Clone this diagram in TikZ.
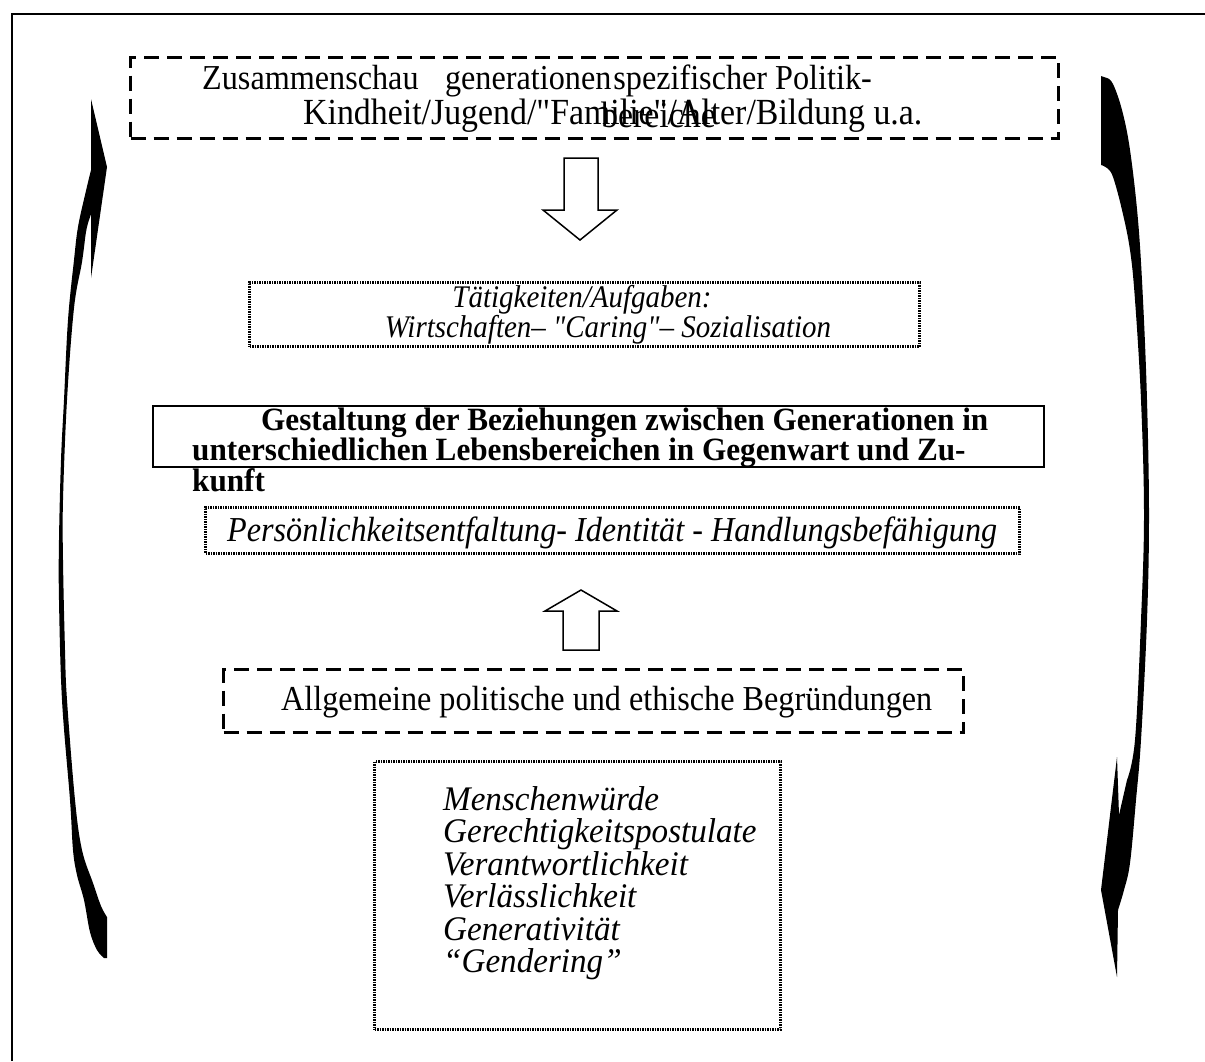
\documentclass[tikz,border=0pt]{standalone}
\usepackage{fontspec}
\setmainfont{Liberation Serif}[Ligatures=TeXOff]
\newfontfamily\condserif{Liberation Serif}[FakeStretch=0.92, Ligatures=TeXOff]
\newfontfamily\condbold{Liberation Serif}[FakeStretch=0.96, Ligatures=TeXOff]
\newfontfamily\listserif{Liberation Serif}[FakeStretch=0.96, Ligatures=TeXOff]
\begin{document}
\begin{tikzpicture}[x=1pt,y=-1pt,
  dashbox/.style={draw, line width=3pt, dash pattern=on 15pt off 8pt, inner sep=0pt, anchor=north west},
  dotbox/.style={draw, line width=3pt, dash pattern=on 1.5pt off 1pt, inner sep=0pt, anchor=north west},
  solidbox/.style={draw, line width=2pt, inner sep=0pt, anchor=north west},
  txt/.style={inner sep=0pt, font=\condserif\fontsize{35}{36}\selectfont},
  bigtxt/.style={inner sep=0pt, font=\condserif\fontsize{36.8}{38}\selectfont},
  itxt/.style={inner sep=0pt, font=\condserif\fontsize{35}{36}\selectfont\itshape},
  smitxt/.style={inner sep=0pt, font=\condserif\fontsize{31.5}{33}\selectfont\itshape},
  listtxt/.style={inner sep=0pt, anchor=base west, font=\listserif\fontsize{34.5}{36}\selectfont\itshape},
  btxt/.style={inner sep=0pt, anchor=base west, font=\condbold\fontsize{32.5}{34}\selectfont\bfseries},
  blockarrow/.style={draw, line width=1.5pt, fill=white, line join=miter}
]
\useasboundingbox (0,0) rectangle (1205,1061);
% frame
\draw[line width=2.5pt] (12,1061) -- (12,14) -- (1205,14);

% top box
\node[dashbox, minimum width=928pt, minimum height=81pt] (topbox) at (129,56) {};
\node[txt, anchor=base west] (top1a) at (202,89) {Zusammenschau};
\node[txt, anchor=base east] (top1b) at (872,89) {generationen\hspace{2pt}spezifischer Politik-};
\node[bigtxt, anchor=base west] (top2) at (303,124) {Kindheit/Jugend/"Familie"/Alter/Bildung u.a.};
\node[bigtxt, anchor=base west] (top3) at (601,127) {bereiche};

% down block arrow
\draw[blockarrow] (564,158) -- (598,158) -- (598,210) -- (617,210) -- (580,240) -- (543,210) -- (564,210) -- cycle;

% Taetigkeiten box
\node[dotbox, minimum width=670pt, minimum height=64pt] (taetbox) at (248,281) {};
\node[smitxt, anchor=base] (taet1) at (582,307) {Tätigkeiten/Aufgaben:};
\node[smitxt, anchor=base] (taet2) at (608,337) {Wirtschaften– "Caring"– Sozialisation};

% bold box
\node[solidbox, minimum width=891pt, minimum height=61pt] (gestbox) at (152,405) {};
\node[btxt] (gest1) at (261,430) {Gestaltung der Beziehungen zwischen Generationen in};
\node[btxt] (gest2) at (192,460.5) {unterschiedlichen Lebensbereichen in Gegenwart und Zu-};
\node[btxt] (gest3) at (192,491) {kunft};

% Persoenlichkeit box
\node[dotbox, minimum width=814pt, minimum height=46pt] (persbox) at (204,506) {};
\node[itxt, anchor=base west] (pers) at (227,541) {Persönlichkeitsentfaltung- Identität - Handlungsbefähigung};

% up block arrow
\draw[blockarrow] (563,650) -- (599,650) -- (599,611) -- (617,611) -- (581,590) -- (545,611) -- (563,611) -- cycle;

% Allgemeine box
\node[dashbox, minimum width=740pt, minimum height=63pt] (allgbox) at (222,668) {};
\node[txt, anchor=base west] (allg) at (281,710) {Allgemeine politische und ethische Begründungen};

% values box
\node[dotbox, minimum width=406pt, minimum height=268pt] (valbox) at (373,760) {};
\node[listtxt] (v1) at (443,810) {Menschenwürde};
\node[listtxt] (v2) at (443,842.5) {Gerechtigkeitspostulate};
\node[listtxt] (v3) at (443,875) {Verantwortlichkeit};
\node[listtxt] (v4) at (443,907.5) {Verlässlichkeit};
\node[listtxt] (v5) at (443,940) {Generativität};
\node[listtxt] (v6) at (443,972.5) {“Gendering”};

% left curved arrow (pointing up)
\fill (91,99) -- (107,167) -- (91,278) -- (91,214)
  -- plot[smooth, tension=0.6] coordinates {(89,220) (86,232) (82,262) (74,308) (67,400) (63,500) (63,560) (65,650) (67,700) (75,800) (82,850) (93,883) (101,906) (107,917)}
  -- (107,958)
  -- plot[smooth, tension=0.6] coordinates {(104,958) (97,950) (90,932) (84,900) (77,875) (73,850) (70,800) (62,700) (59,600) (59,540) (61,460) (64,400) (68,320) (74,260) (78,227) (85,195) (91,170)}
  -- cycle;

% right curved arrow (pointing down)
\fill (1101,76)
  -- plot[smooth, tension=0.6] coordinates {(1107,78) (1113,84) (1122,110) (1130,150) (1138,220) (1143,300) (1147,400) (1149,515) (1147,620) (1141,740) (1136,800) (1130,863) (1124,890) (1118,910)}
  -- (1117,977) -- (1101,890) -- (1117,757) -- (1119,815)
  -- plot[smooth, tension=0.6] coordinates {(1127,780) (1135,740) (1141,620) (1144,515) (1141,400) (1135,300) (1130,250) (1122,210) (1113,177) (1107,168) (1101,165)}
  -- cycle;
\end{tikzpicture}
\end{document}
